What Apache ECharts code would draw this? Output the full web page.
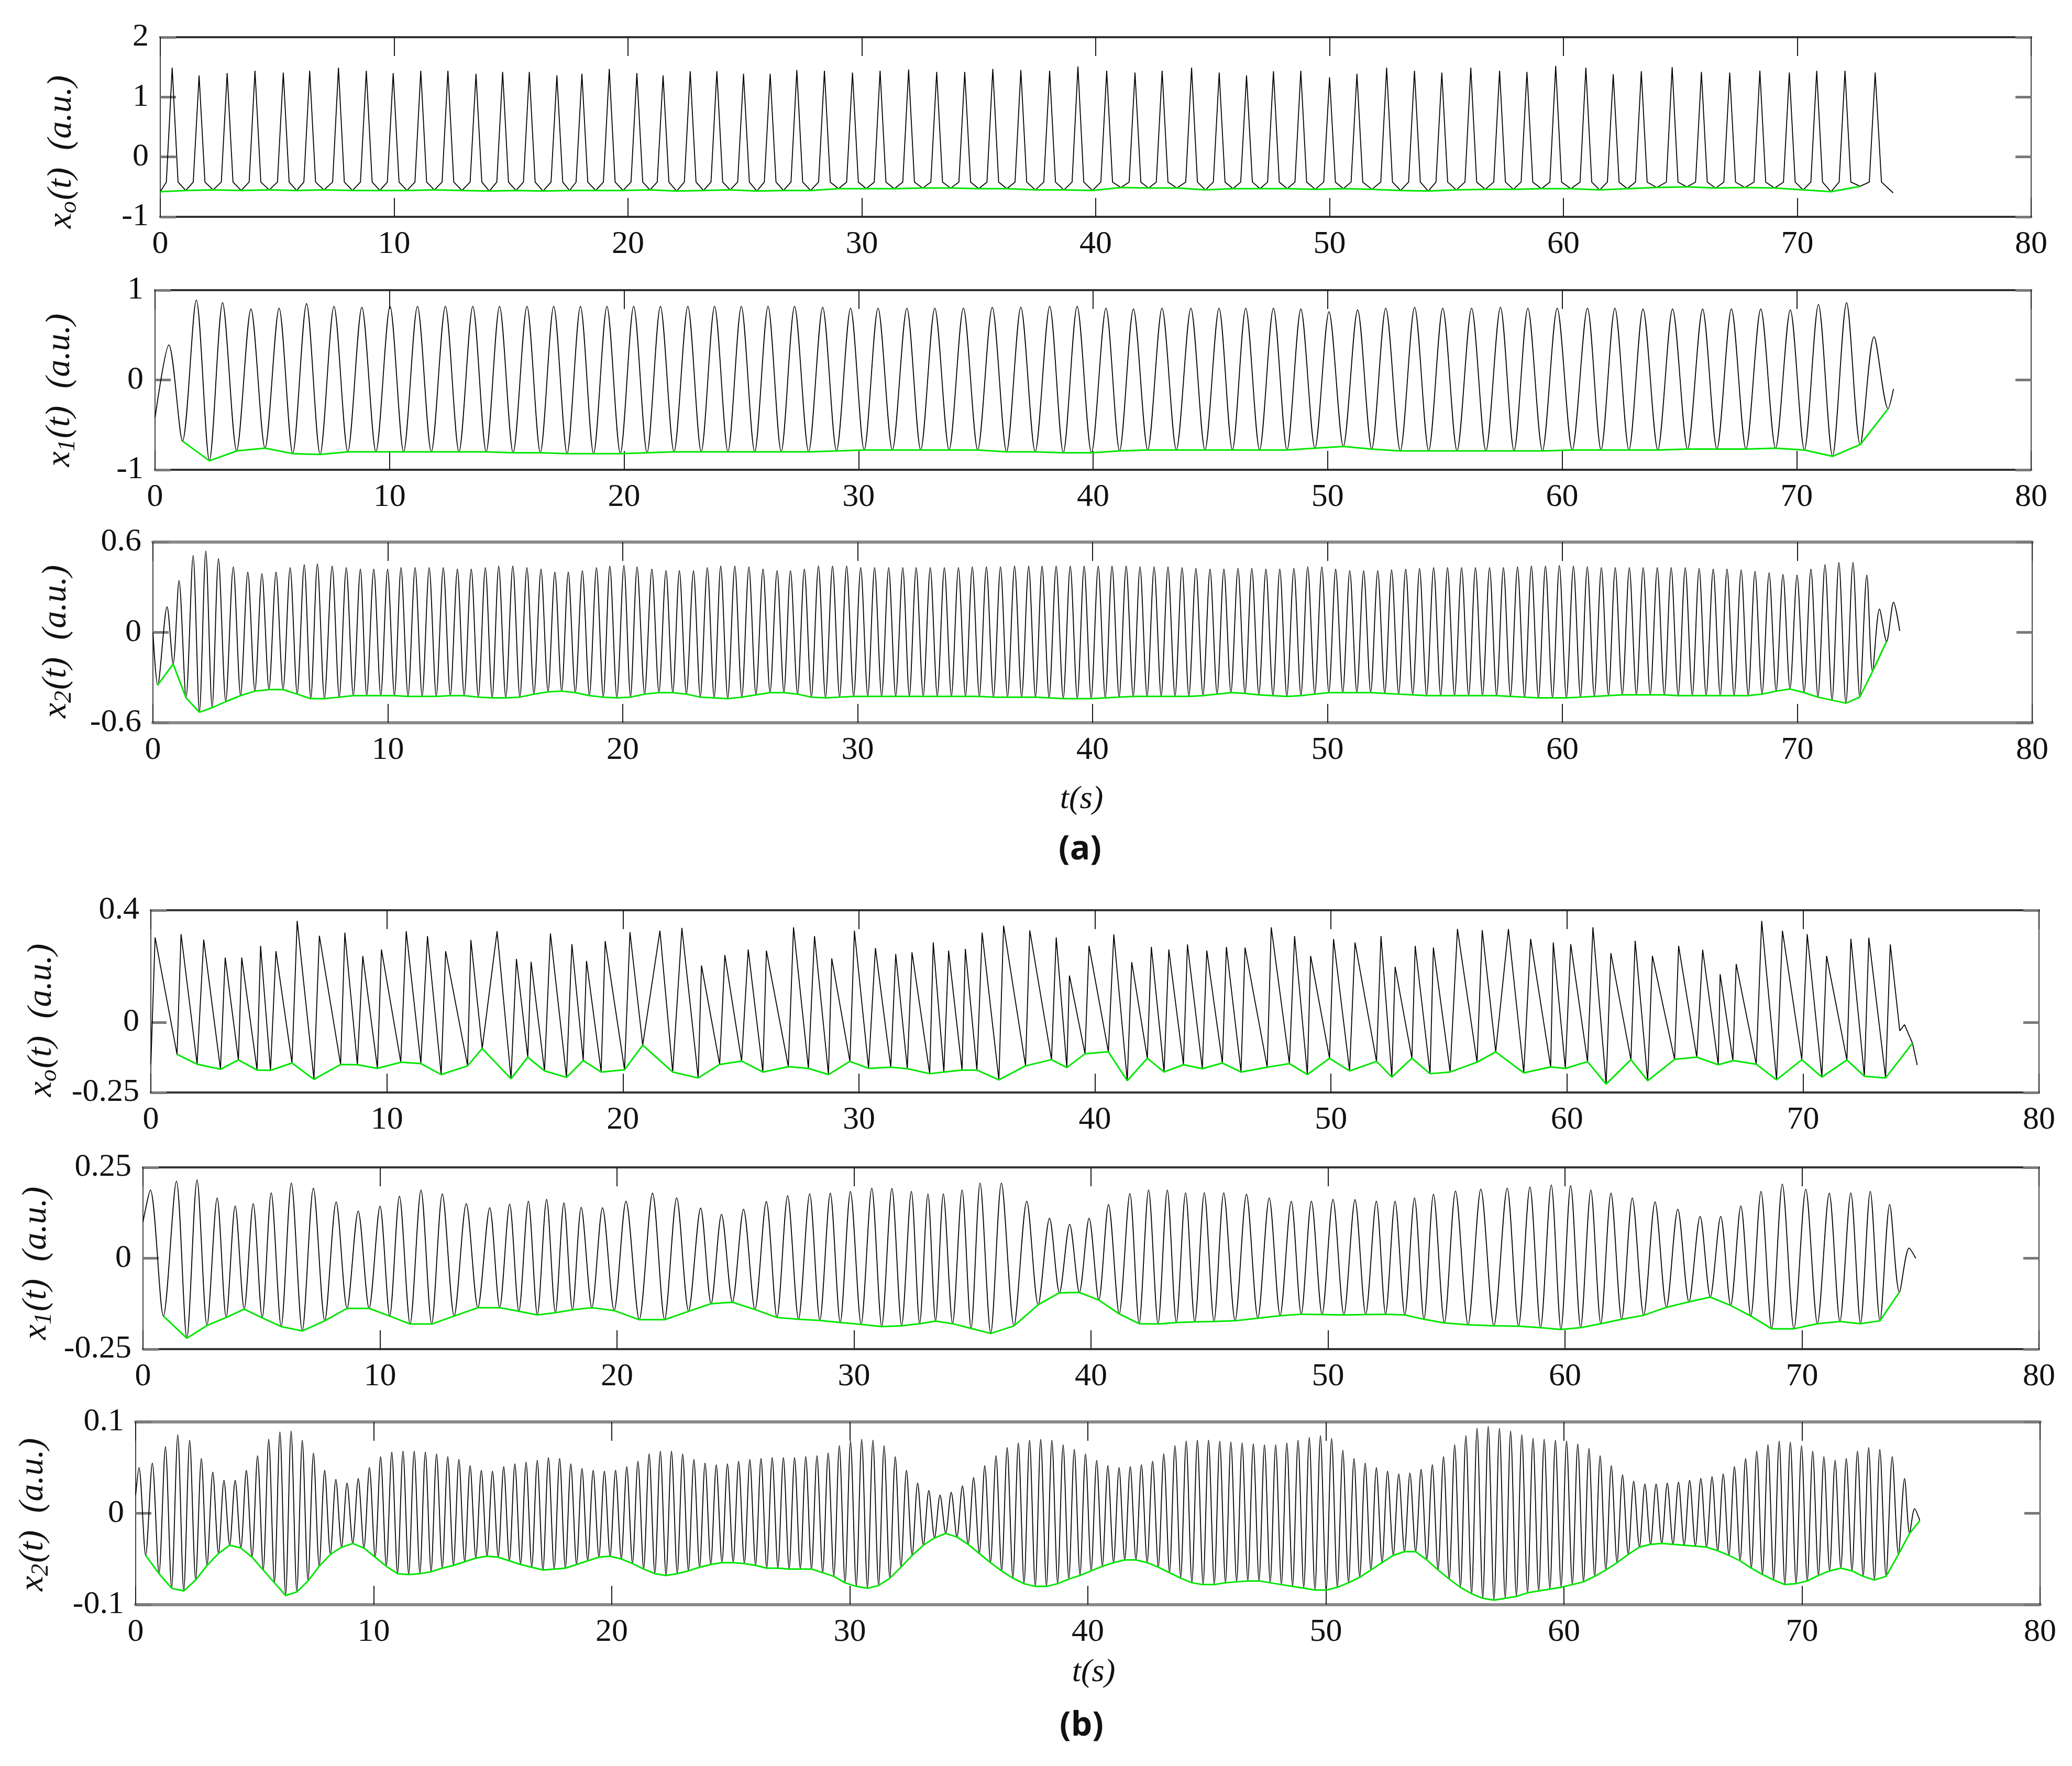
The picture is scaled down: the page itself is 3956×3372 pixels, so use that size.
<!DOCTYPE html>
<html>
<head>
<meta charset="utf-8">
<title>Time series x(t)</title>
<script src="https://cdn.jsdelivr.net/npm/echarts@6/dist/echarts.min.js"></script>
<style>
  html, body { margin: 0; padding: 0; background: #fff; }
  #chart { width: 3956px; height: 3372px; }
</style>
</head>
<body>
<div id="chart"></div>
<script>
// ---- values (t in s, x in a.u.) ----
const xTicks = [0, 10, 20, 30, 40, 50, 60, 70, 80];

// (a) x_o(t)
const a0YTicks = [-1, 0, 1, 2];
const a0PeakT = [0.51,1.66,2.86,4.05,5.26,6.39,7.62,8.81,9.96,11.14,12.3,13.5,14.64,15.78,16.96,18.03,19.2,20.38,21.5,22.66,23.8,24.94,26.08,27.22,28.4,29.6,30.78,32.0,33.2,34.4,35.6,36.8,38.03,39.24,40.47,41.68,42.84,44.1,45.28,46.45,47.6,48.77,50.0,51.17,52.44,53.63,54.8,56.04,57.27,58.44,59.67,60.96,62.13,63.33,64.65,65.9,67.11,68.4,69.66,70.83,72.04,73.33];
const a0PeakV = [1.49,1.36,1.40,1.44,1.41,1.44,1.49,1.44,1.40,1.44,1.44,1.39,1.42,1.42,1.36,1.39,1.47,1.40,1.36,1.43,1.43,1.39,1.39,1.45,1.44,1.41,1.44,1.46,1.42,1.42,1.47,1.45,1.44,1.51,1.44,1.41,1.44,1.49,1.41,1.36,1.43,1.44,1.33,1.39,1.49,1.44,1.41,1.49,1.44,1.42,1.52,1.49,1.38,1.43,1.50,1.42,1.41,1.44,1.41,1.44,1.44,1.41];
// where each spike widens into the flat floor
const a0FootT = [0.26,0.76,1.41,1.91,2.61,3.11,3.8,4.3,5.01,5.51,6.14,6.64,7.37,7.87,8.56,9.06,9.71,10.21,10.89,11.39,12.05,12.55,13.25,13.75,14.39,14.89,15.53,16.03,16.71,17.21,17.78,18.28,18.95,19.45,20.13,20.63,21.25,21.75,22.41,22.91,23.55,24.05,24.69,25.19,25.83,26.33,26.97,27.47,28.15,28.65,29.35,29.85,30.53,31.03,31.75,32.25,32.95,33.45,34.15,34.65,35.35,35.85,36.55,37.05,37.78,38.28,38.99,39.49,40.22,40.72,41.43,41.93,42.59,43.09,43.85,44.35,45.03,45.53,46.2,46.7,47.35,47.85,48.52,49.02,49.75,50.25,50.92,51.42,52.19,52.69,53.38,53.88,54.55,55.05,55.79,56.29,57.02,57.52,58.19,58.69,59.42,59.92,60.71,61.21,61.88,62.38,63.08,63.58,64.4,64.9,65.65,66.15,66.86,67.36,68.15,68.65,69.41,69.91,70.58,71.08,71.79,72.29,73.08,73.6];
const a0FootLevel = -0.42;
const a0LowT = [0,1.09,2.26,3.46,4.66,5.83,7.0,8.22,9.39,10.55,11.72,12.9,14.07,15.21,16.37,17.5,18.62,19.79,20.94,22.08,23.23,24.37,25.51,26.65,27.81,29.0,30.19,31.39,32.6,33.8,35.0,36.2,37.42,38.64,39.86,41.08,42.26,43.47,44.69,45.87,47.03,48.19,49.39,50.59,51.81,53.04,54.22,55.42,56.66,57.86,59.06,60.32,61.55,62.73,63.99,65.28,66.51,67.76,69.03,70.25,71.44,72.69];
const a0LowV = [-0.58,-0.56,-0.55,-0.56,-0.55,-0.56,-0.55,-0.56,-0.56,-0.56,-0.55,-0.56,-0.57,-0.56,-0.57,-0.56,-0.56,-0.56,-0.55,-0.57,-0.56,-0.55,-0.57,-0.56,-0.56,-0.53,-0.53,-0.53,-0.52,-0.52,-0.53,-0.53,-0.55,-0.55,-0.56,-0.51,-0.52,-0.52,-0.55,-0.53,-0.53,-0.53,-0.54,-0.53,-0.54,-0.56,-0.57,-0.55,-0.54,-0.54,-0.53,-0.53,-0.55,-0.53,-0.51,-0.50,-0.52,-0.51,-0.52,-0.55,-0.58,-0.49];
const a0EdgeT = [74.1];
const a0EdgeV = [-0.6];

// (a) x_1(t)
const a1YTicks = [-1, 0, 1];
const a1PeakT = [0.59,1.76,2.88,4.09,5.29,6.46,7.63,8.82,10.02,11.19,12.38,13.55,14.69,15.86,17.0,18.14,19.27,20.41,21.55,22.72,23.86,25.0,26.14,27.27,28.47,29.66,30.83,32.06,33.25,34.47,35.7,36.92,38.15,39.32,40.55,41.72,42.94,44.17,45.37,46.51,47.69,48.86,50.06,51.28,52.48,53.71,54.91,56.14,57.37,58.54,59.79,61.08,62.25,63.45,64.71,65.99,67.22,68.47,69.73,70.93,72.13,73.3];
const a1PeakV = [0.39,0.89,0.86,0.79,0.80,0.85,0.82,0.81,0.82,0.82,0.82,0.82,0.82,0.82,0.82,0.82,0.82,0.82,0.82,0.82,0.82,0.82,0.82,0.82,0.81,0.80,0.80,0.80,0.80,0.80,0.81,0.81,0.82,0.82,0.80,0.79,0.80,0.80,0.80,0.80,0.80,0.79,0.76,0.78,0.80,0.81,0.80,0.80,0.81,0.80,0.80,0.80,0.80,0.79,0.79,0.79,0.79,0.79,0.78,0.84,0.86,0.48];
const a1LowT = [1.17,2.32,3.48,4.69,5.87,7.04,8.22,9.42,10.6,11.78,12.96,14.12,15.27,16.43,17.57,18.7,19.84,20.98,22.13,23.29,24.43,25.57,26.7,27.87,29.06,30.24,31.44,32.65,33.86,35.08,36.31,37.53,38.73,39.93,41.13,42.33,43.55,44.77,45.94,47.1,48.27,49.46,50.67,51.88,53.1,54.31,55.52,56.75,57.95,59.16,60.43,61.66,62.85,64.08,65.35,66.6,67.84,69.1,70.33,71.53,72.71,73.9];
const a1LowV = [-0.68,-0.90,-0.79,-0.76,-0.82,-0.83,-0.80,-0.80,-0.80,-0.80,-0.80,-0.80,-0.81,-0.81,-0.82,-0.82,-0.82,-0.81,-0.80,-0.80,-0.80,-0.80,-0.80,-0.80,-0.79,-0.78,-0.78,-0.78,-0.78,-0.78,-0.80,-0.80,-0.81,-0.81,-0.79,-0.78,-0.78,-0.78,-0.78,-0.78,-0.78,-0.76,-0.74,-0.77,-0.79,-0.79,-0.79,-0.79,-0.79,-0.79,-0.78,-0.78,-0.78,-0.78,-0.77,-0.77,-0.77,-0.76,-0.78,-0.85,-0.72,-0.32];
const a1EdgeT = [0, 74.13];
const a1EdgeV = [-0.42, -0.1];

// (a) x_2(t)
const a2YTicks = [-0.6, 0, 0.6];
const a2PeakT = [0.6,1.11,1.71,2.25,2.79,3.42,4.04,4.64,5.24,5.84,6.44,7.0,7.63,8.23,8.83,9.4,9.99,10.56,11.16,11.76,12.36,12.96,13.55,14.15,14.72,15.32,15.92,16.52,17.11,17.68,18.28,18.88,19.45,20.05,20.61,21.24,21.84,22.41,23.01,23.6,24.17,24.77,25.37,25.97,26.57,27.14,27.73,28.33,28.93,29.53,30.13,30.72,31.32,31.92,32.49,33.09,33.69,34.29,34.88,35.48,36.08,36.68,37.28,37.85,38.45,39.05,39.64,40.24,40.83,41.43,42.02,42.62,43.21,43.81,44.4,45.0,45.59,46.19,46.78,47.38,47.97,48.57,49.16,49.76,50.35,50.95,51.54,52.14,52.73,53.33,53.92,54.52,55.11,55.71,56.3,56.9,57.49,58.09,58.68,59.28,59.87,60.47,61.06,61.66,62.25,62.85,63.44,64.04,64.63,65.23,65.82,66.42,67.01,67.61,68.2,68.8,69.39,69.99,70.58,71.18,71.77,72.37,72.96,73.5,74.1];
const a2PeakV = [0.17,0.344,0.51,0.54,0.49,0.435,0.40,0.39,0.40,0.43,0.45,0.455,0.44,0.43,0.42,0.42,0.42,0.43,0.43,0.43,0.43,0.42,0.42,0.43,0.44,0.44,0.43,0.42,0.40,0.40,0.41,0.43,0.44,0.445,0.435,0.42,0.41,0.41,0.41,0.43,0.44,0.44,0.435,0.42,0.41,0.41,0.42,0.44,0.44,0.44,0.43,0.43,0.43,0.43,0.43,0.43,0.43,0.43,0.435,0.435,0.435,0.44,0.44,0.44,0.44,0.44,0.44,0.44,0.44,0.44,0.435,0.435,0.435,0.43,0.425,0.42,0.42,0.425,0.425,0.42,0.42,0.425,0.435,0.435,0.42,0.41,0.41,0.41,0.415,0.42,0.425,0.43,0.43,0.43,0.43,0.43,0.43,0.435,0.44,0.44,0.445,0.44,0.435,0.43,0.43,0.43,0.43,0.43,0.43,0.43,0.425,0.42,0.42,0.415,0.405,0.395,0.385,0.38,0.42,0.45,0.465,0.465,0.38,0.155,0.20];
const a2LowT = [0.2,0.86,1.41,1.98,2.52,3.1,3.73,4.34,4.94,5.54,6.14,6.72,7.3,7.93,8.53,9.1,9.7,10.28,10.86,11.46,12.06,12.66,13.25,13.85,14.44,15.02,15.62,16.22,16.82,17.4,17.98,18.58,19.17,19.75,20.33,20.93,21.54,22.13,22.71,23.3,23.89,24.47,25.07,25.67,26.27,26.86,27.44,28.03,28.63,29.23,29.83,30.43,31.02,31.62,32.2,32.79,33.39,33.99,34.59,35.18,35.78,36.38,36.98,37.57,38.15,38.75,39.35,39.94,40.54,41.13,41.73,42.32,42.92,43.51,44.1,44.7,45.3,45.89,46.49,47.08,47.68,48.27,48.87,49.46,50.06,50.65,51.25,51.84,52.44,53.03,53.63,54.22,54.82,55.41,56.01,56.6,57.2,57.79,58.39,58.98,59.58,60.17,60.77,61.36,61.96,62.55,63.15,63.74,64.34,64.93,65.53,66.12,66.72,67.31,67.91,68.5,69.1,69.69,70.29,70.88,71.48,72.07,72.66,73.2,73.8];
const a2LowV = [-0.35,-0.21,-0.435,-0.53,-0.50,-0.46,-0.42,-0.39,-0.38,-0.38,-0.41,-0.44,-0.44,-0.43,-0.42,-0.42,-0.42,-0.42,-0.425,-0.425,-0.425,-0.42,-0.42,-0.43,-0.435,-0.435,-0.43,-0.41,-0.395,-0.39,-0.40,-0.42,-0.43,-0.435,-0.43,-0.41,-0.40,-0.40,-0.41,-0.43,-0.435,-0.44,-0.43,-0.415,-0.40,-0.40,-0.41,-0.43,-0.435,-0.43,-0.425,-0.425,-0.425,-0.425,-0.425,-0.425,-0.425,-0.425,-0.425,-0.425,-0.43,-0.43,-0.43,-0.43,-0.435,-0.44,-0.44,-0.44,-0.435,-0.43,-0.425,-0.425,-0.425,-0.425,-0.425,-0.42,-0.41,-0.40,-0.405,-0.415,-0.42,-0.425,-0.42,-0.41,-0.40,-0.40,-0.40,-0.40,-0.405,-0.41,-0.415,-0.42,-0.42,-0.42,-0.42,-0.42,-0.42,-0.425,-0.43,-0.435,-0.435,-0.435,-0.43,-0.425,-0.42,-0.415,-0.415,-0.415,-0.415,-0.42,-0.42,-0.42,-0.42,-0.42,-0.42,-0.41,-0.39,-0.376,-0.40,-0.43,-0.45,-0.47,-0.43,-0.26,-0.06];
const a2EdgeT = [0, 74.36];
const a2EdgeV = [0.0, 0.01];

// (b) x_o(t)
const b0YTicks = [-0.25, 0, 0.4];
const b0PeakT = [0.18,1.28,2.24,3.15,3.85,4.65,5.3,6.2,7.14,8.22,8.98,9.77,10.82,11.72,12.49,13.56,14.67,15.49,16.11,16.93,17.84,18.46,19.25,20.3,21.57,22.5,23.33,24.32,25.31,26.08,27.23,28.12,28.85,29.81,30.7,31.56,32.25,33.15,33.8,34.51,35.22,36.13,37.24,38.36,38.92,39.75,40.8,41.56,42.39,43.13,43.92,44.74,45.57,46.36,47.47,48.46,49.14,50.11,51.02,52.12,52.72,53.57,54.34,55.36,56.41,57.52,58.46,59.42,60.16,61.1,61.86,62.89,63.62,64.73,65.75,66.49,67.17,68.25,69.13,70.18,71.0,72.03,72.79,73.7];
const b0PeakV = [0.303,0.315,0.295,0.231,0.231,0.273,0.254,0.362,0.309,0.32,0.237,0.26,0.325,0.308,0.254,0.294,0.325,0.226,0.216,0.317,0.279,0.219,0.29,0.322,0.327,0.337,0.203,0.24,0.26,0.256,0.339,0.308,0.228,0.327,0.265,0.244,0.25,0.285,0.256,0.262,0.32,0.345,0.328,0.303,0.167,0.273,0.314,0.215,0.269,0.26,0.278,0.256,0.269,0.267,0.339,0.308,0.237,0.297,0.285,0.308,0.198,0.273,0.267,0.333,0.329,0.333,0.298,0.285,0.279,0.339,0.247,0.291,0.237,0.273,0.259,0.172,0.208,0.362,0.327,0.315,0.237,0.298,0.302,0.278];
const b0LowT = [1.11,1.96,2.95,3.71,4.5,5.07,5.98,6.91,8.04,8.75,9.6,10.59,11.44,12.3,13.42,14.04,15.26,15.97,16.68,17.61,18.32,19.08,20.07,20.84,22.11,23.19,24.1,25.03,25.93,27.01,27.86,28.71,29.62,30.41,31.35,32.05,33.0,33.6,34.37,35.0,35.93,37.06,38.16,38.81,39.58,40.57,41.37,42.22,42.93,43.75,44.55,45.4,46.19,47.3,48.24,49.0,49.94,50.79,51.93,52.58,53.43,54.2,55.05,56.19,56.98,58.17,59.31,59.93,60.87,61.66,62.71,63.42,64.56,65.5,66.41,67.03,68.02,68.88,69.95,70.8,71.86,72.6,73.5,74.64];
const b0LowV = [-0.114,-0.149,-0.167,-0.134,-0.170,-0.171,-0.145,-0.203,-0.150,-0.151,-0.164,-0.142,-0.147,-0.186,-0.155,-0.093,-0.201,-0.124,-0.173,-0.196,-0.136,-0.177,-0.169,-0.081,-0.177,-0.198,-0.150,-0.138,-0.177,-0.158,-0.164,-0.186,-0.139,-0.164,-0.160,-0.165,-0.183,-0.177,-0.170,-0.170,-0.205,-0.155,-0.133,-0.161,-0.112,-0.105,-0.208,-0.128,-0.177,-0.151,-0.165,-0.145,-0.177,-0.160,-0.147,-0.186,-0.128,-0.173,-0.139,-0.195,-0.128,-0.183,-0.177,-0.142,-0.105,-0.180,-0.159,-0.164,-0.140,-0.220,-0.133,-0.208,-0.132,-0.124,-0.151,-0.136,-0.149,-0.205,-0.133,-0.195,-0.134,-0.192,-0.198,-0.074];
const b0EdgeT = [0, 74.1, 74.3, 74.84];
const b0EdgeV = [-0.15, -0.03, -0.008, -0.152];

// (b) x_1(t)
const b1YTicks = [-0.25, 0, 0.25];
const b1PeakT = [0.31,1.41,2.28,3.13,3.89,4.65,5.41,6.26,7.19,8.15,9.08,10.0,10.82,11.73,12.63,13.64,14.63,15.47,16.26,17.03,17.76,18.49,19.39,20.38,21.5,22.52,23.53,24.41,25.34,26.3,27.2,28.13,29.0,29.85,30.75,31.6,32.42,33.12,33.77,34.56,35.32,36.22,37.29,38.25,39.1,39.92,40.74,41.64,42.43,43.22,43.99,44.78,45.6,46.56,47.52,48.45,49.3,50.21,51.14,52.04,52.83,53.65,54.45,55.38,56.45,57.56,58.52,59.42,60.24,61.09,61.94,62.84,63.8,64.76,65.7,66.57,67.42,68.27,69.17,70.16,71.15,72.06,72.88,73.7,74.52];
const b1PeakV = [0.188,0.212,0.216,0.166,0.144,0.15,0.18,0.207,0.193,0.155,0.13,0.143,0.171,0.188,0.177,0.15,0.139,0.149,0.157,0.162,0.152,0.14,0.139,0.157,0.179,0.166,0.138,0.121,0.135,0.156,0.172,0.177,0.179,0.184,0.193,0.192,0.184,0.177,0.177,0.188,0.207,0.207,0.157,0.11,0.093,0.11,0.148,0.178,0.188,0.188,0.18,0.18,0.18,0.176,0.166,0.157,0.157,0.162,0.161,0.157,0.157,0.166,0.176,0.185,0.19,0.193,0.196,0.202,0.2,0.188,0.179,0.166,0.155,0.135,0.115,0.115,0.144,0.184,0.204,0.19,0.179,0.18,0.184,0.148,0.028];
const b1LowT = [0.86,1.85,2.7,3.51,4.27,5.03,5.83,6.72,7.67,8.61,9.54,10.41,11.27,12.18,13.13,14.13,15.05,15.86,16.64,17.4,18.12,18.94,19.88,20.94,22.01,23.02,23.97,24.87,25.82,26.75,27.66,28.56,29.42,30.3,31.17,32.01,32.77,33.44,34.16,34.94,35.77,36.75,37.77,38.67,39.51,40.33,41.19,42.03,42.83,43.6,44.38,45.19,46.08,47.04,47.98,48.87,49.75,50.67,51.59,52.43,53.24,54.05,54.91,55.91,57.0,58.04,58.97,59.83,60.66,61.51,62.39,63.32,64.28,65.23,66.13,66.99,67.84,68.72,69.66,70.65,71.6,72.47,73.29,74.11];
const b1LowV = [-0.159,-0.22,-0.185,-0.163,-0.14,-0.164,-0.188,-0.2,-0.172,-0.138,-0.138,-0.159,-0.181,-0.181,-0.159,-0.136,-0.136,-0.146,-0.156,-0.15,-0.142,-0.136,-0.144,-0.169,-0.169,-0.146,-0.125,-0.121,-0.141,-0.163,-0.168,-0.171,-0.177,-0.182,-0.188,-0.186,-0.18,-0.173,-0.18,-0.193,-0.207,-0.186,-0.128,-0.095,-0.094,-0.115,-0.153,-0.18,-0.181,-0.177,-0.175,-0.174,-0.172,-0.165,-0.158,-0.154,-0.155,-0.156,-0.155,-0.154,-0.156,-0.168,-0.178,-0.183,-0.186,-0.187,-0.191,-0.196,-0.191,-0.18,-0.168,-0.157,-0.135,-0.12,-0.107,-0.13,-0.159,-0.194,-0.194,-0.18,-0.174,-0.18,-0.172,-0.093];
const b1EdgeT = [0, 74.8];
const b1EdgeV = [0.1, 0.0];

// (b) x_2(t)
const b2YTicks = [-0.1, 0, 0.1];
const b2PeakT = [0.14,0.7,1.25,1.77,2.27,2.76,3.24,3.71,4.18,4.65,5.12,5.59,6.06,6.53,7.0,7.47,7.94,8.41,8.88,9.35,9.82,10.29,10.76,11.23,11.7,12.17,12.64,13.11,13.58,14.05,14.52,14.99,15.46,15.93,16.4,16.87,17.34,17.81,18.28,18.75,19.22,19.69,20.16,20.63,21.1,21.57,22.04,22.51,22.98,23.45,23.92,24.39,24.86,25.33,25.8,26.27,26.74,27.21,27.68,28.15,28.62,29.09,29.56,30.03,30.5,30.97,31.44,31.91,32.38,32.85,33.32,33.79,34.26,34.73,35.2,35.67,36.14,36.61,37.08,37.55,38.02,38.49,38.96,39.43,39.9,40.37,40.84,41.31,41.78,42.25,42.72,43.19,43.66,44.13,44.6,45.07,45.54,46.01,46.48,46.95,47.42,47.89,48.36,48.83,49.3,49.77,50.24,50.71,51.18,51.65,52.12,52.59,53.06,53.53,54.0,54.47,54.94,55.41,55.88,56.35,56.82,57.29,57.76,58.23,58.7,59.17,59.64,60.11,60.58,61.05,61.52,61.99,62.46,62.93,63.4,63.87,64.34,64.81,65.28,65.75,66.22,66.69,67.16,67.63,68.1,68.57,69.04,69.51,69.98,70.45,70.92,71.39,71.86,72.33,72.8,73.27,73.79,74.31,74.73];
const b2PeakV = [0.05,0.055,0.073,0.086,0.08,0.06,0.045,0.036,0.036,0.047,0.063,0.081,0.089,0.09,0.08,0.066,0.047,0.037,0.033,0.038,0.05,0.062,0.067,0.068,0.068,0.067,0.065,0.062,0.059,0.052,0.047,0.046,0.051,0.054,0.056,0.058,0.061,0.06,0.054,0.049,0.047,0.046,0.047,0.051,0.057,0.065,0.068,0.068,0.065,0.059,0.055,0.053,0.054,0.057,0.059,0.06,0.061,0.061,0.061,0.062,0.063,0.066,0.074,0.079,0.081,0.08,0.074,0.062,0.047,0.033,0.025,0.02,0.023,0.03,0.039,0.052,0.063,0.072,0.077,0.08,0.081,0.08,0.075,0.07,0.065,0.058,0.052,0.05,0.051,0.053,0.057,0.065,0.074,0.079,0.08,0.08,0.079,0.078,0.077,0.076,0.075,0.075,0.077,0.08,0.083,0.085,0.082,0.069,0.06,0.055,0.05,0.046,0.043,0.044,0.048,0.053,0.062,0.075,0.085,0.093,0.095,0.093,0.09,0.086,0.082,0.081,0.08,0.079,0.076,0.071,0.063,0.052,0.042,0.035,0.032,0.032,0.033,0.034,0.036,0.038,0.04,0.043,0.051,0.06,0.068,0.075,0.079,0.078,0.074,0.068,0.062,0.058,0.06,0.068,0.072,0.07,0.062,0.038,0.005];
const b2LowT = [0.42,0.98,1.51,2.02,2.52,3.0,3.48,3.95,4.42,4.89,5.36,5.83,6.3,6.77,7.24,7.71,8.18,8.65,9.12,9.59,10.06,10.53,11.0,11.47,11.94,12.41,12.88,13.35,13.82,14.29,14.76,15.23,15.7,16.17,16.64,17.11,17.58,18.05,18.52,18.99,19.46,19.93,20.4,20.87,21.34,21.81,22.28,22.75,23.22,23.69,24.16,24.63,25.1,25.57,26.04,26.51,26.98,27.45,27.92,28.39,28.86,29.33,29.8,30.27,30.74,31.21,31.68,32.15,32.62,33.09,33.56,34.03,34.5,34.97,35.44,35.91,36.38,36.85,37.32,37.79,38.26,38.73,39.2,39.67,40.14,40.61,41.08,41.55,42.02,42.49,42.96,43.43,43.9,44.37,44.84,45.31,45.78,46.25,46.72,47.19,47.66,48.13,48.6,49.07,49.54,50.01,50.48,50.95,51.42,51.89,52.36,52.83,53.3,53.77,54.24,54.71,55.18,55.65,56.12,56.59,57.06,57.53,58.0,58.47,58.94,59.41,59.88,60.35,60.82,61.29,61.76,62.23,62.7,63.17,63.64,64.11,64.58,65.05,65.52,65.99,66.46,66.93,67.4,67.87,68.34,68.81,69.28,69.75,70.22,70.69,71.16,71.63,72.1,72.57,73.04,73.53,74.05,74.52,74.95];
const b2LowV = [-0.046,-0.066,-0.082,-0.085,-0.073,-0.057,-0.044,-0.035,-0.038,-0.048,-0.062,-0.076,-0.09,-0.086,-0.074,-0.058,-0.045,-0.037,-0.033,-0.038,-0.048,-0.058,-0.066,-0.067,-0.066,-0.064,-0.06,-0.057,-0.053,-0.049,-0.047,-0.048,-0.052,-0.056,-0.059,-0.062,-0.061,-0.06,-0.056,-0.052,-0.048,-0.047,-0.05,-0.055,-0.061,-0.066,-0.068,-0.066,-0.063,-0.059,-0.056,-0.054,-0.054,-0.055,-0.057,-0.06,-0.06,-0.061,-0.061,-0.061,-0.065,-0.069,-0.076,-0.08,-0.082,-0.079,-0.071,-0.059,-0.046,-0.035,-0.027,-0.022,-0.026,-0.034,-0.044,-0.054,-0.063,-0.071,-0.077,-0.08,-0.08,-0.077,-0.072,-0.068,-0.063,-0.058,-0.054,-0.051,-0.051,-0.054,-0.059,-0.065,-0.071,-0.076,-0.078,-0.078,-0.076,-0.075,-0.074,-0.074,-0.076,-0.078,-0.08,-0.082,-0.084,-0.084,-0.081,-0.076,-0.07,-0.062,-0.054,-0.046,-0.042,-0.042,-0.051,-0.062,-0.072,-0.081,-0.088,-0.093,-0.095,-0.093,-0.091,-0.087,-0.085,-0.083,-0.081,-0.078,-0.075,-0.069,-0.062,-0.054,-0.045,-0.037,-0.034,-0.033,-0.034,-0.035,-0.036,-0.037,-0.041,-0.046,-0.052,-0.06,-0.067,-0.073,-0.078,-0.077,-0.074,-0.068,-0.063,-0.06,-0.063,-0.069,-0.073,-0.069,-0.045,-0.022,-0.008];
const b2EdgeT = [0];
const b2EdgeV = [0.02];

// ---- helpers ----
function pairs(ts, vs) {
  return ts.map((t, i) => [t, Array.isArray(vs) ? vs[i] : vs]);
}
// black trace: peaks, lows and end points, in time order
function trace(groups) {
  let pts = [];
  groups.forEach(g => { pts = pts.concat(pairs(g[0], g[1])); });
  return pts.sort((p, q) => p[0] - q[0]);
}

const serif = 'Liberation Serif';

const panels = [
  { parts: [[a0PeakT, a0PeakV], [a0FootT, a0FootLevel], [a0EdgeT, a0EdgeV]], lows: [a0LowT, a0LowV], yTicks: a0YTicks, sub: 'o',
    rect: { left: 306, top: 71, width: 3572, height: 343 }, frame: '#333', frameW: 4, smooth: false, nameAt: [118, 290] },
  { parts: [[a1PeakT, a1PeakV], [a1EdgeT, a1EdgeV]], lows: [a1LowT, a1LowV], yTicks: a1YTicks, sub: '1',
    rect: { left: 296, top: 554, width: 3582, height: 343 }, frame: '#333', frameW: 4, smooth: 0.3, nameAt: [115, 745] },
  { parts: [[a2PeakT, a2PeakV], [a2EdgeT, a2EdgeV]], lows: [a2LowT, a2LowV], yTicks: a2YTicks, sub: '2',
    rect: { left: 292, top: 1035, width: 3588, height: 345 }, frame: '#8a8a8a', frameW: 6, smooth: 0.3, nameAt: [108, 1225] },
  { parts: [[b0PeakT, b0PeakV], [b0EdgeT, b0EdgeV]], lows: [b0LowT, b0LowV], yTicks: b0YTicks, sub: 'o',
    rect: { left: 288, top: 1738, width: 3605, height: 348 }, frame: '#333', frameW: 4, smooth: false, nameAt: [80, 1948] },
  { parts: [[b1PeakT, b1PeakV], [b1EdgeT, b1EdgeV]], lows: [b1LowT, b1LowV], yTicks: b1YTicks, sub: '1',
    rect: { left: 273, top: 2229, width: 3620, height: 347 }, frame: '#333', frameW: 4, smooth: 0.3, nameAt: [70, 2412] },
  { parts: [[b2PeakT, b2PeakV], [b2EdgeT, b2EdgeV]], lows: [b2LowT, b2LowV], yTicks: b2YTicks, sub: '2',
    rect: { left: 259, top: 2715, width: 3636, height: 349 }, frame: '#8a8a8a', frameW: 6, smooth: 0.3, nameAt: [64, 2892] }
];

const grids = [], xAxes = [], yAxes = [], series = [], texts = [];

panels.forEach((p, i) => {
  grids.push(Object.assign({ containLabel: false }, p.rect));
  const yMin = p.yTicks[0], yMax = p.yTicks[p.yTicks.length - 1];

  ['bottom', 'top'].forEach(pos => {
    xAxes.push({
      gridIndex: i, type: 'value', position: pos, min: 0, max: 80, interval: 10,
      axisLine: { show: true, onZero: false, lineStyle: { color: p.frame, width: p.frameW } },
      axisTick: { show: true, inside: true, length: 36, customValues: xTicks, lineStyle: { color: '#1a1a1a', width: 2 } },
      axisLabel: { show: pos === 'bottom', customValues: xTicks, margin: 22, fontFamily: serif, fontSize: 62, color: '#111',
        showMinLabel: true, showMaxLabel: true },
      splitLine: { show: false }
    });
  });
  ['left', 'right'].forEach(pos => {
    yAxes.push({
      gridIndex: i, type: 'value', position: pos, min: yMin, max: yMax,
      axisLine: { show: true, onZero: false, lineStyle: { color: '#444', width: 2 } },
      axisTick: { show: true, inside: true, length: 30, customValues: p.yTicks, lineStyle: { color: '#7a7a7a', width: 5 } },
      axisLabel: { show: pos === 'left', customValues: p.yTicks, margin: 22, fontFamily: serif, fontSize: 62, color: '#111',
        showMinLabel: true, showMaxLabel: true },
      splitLine: { show: false }
    });
  });

  series.push({
    type: 'line', xAxisIndex: 2 * i, yAxisIndex: 2 * i,
    data: trace(p.parts.concat([p.lows])),
    symbol: 'none', smooth: p.smooth, silent: true, z: 2,
    lineStyle: { color: '#000', width: 1.8 }
  });
  series.push({
    type: 'line', xAxisIndex: 2 * i, yAxisIndex: 2 * i,
    data: pairs(p.lows[0], p.lows[1]),
    symbol: 'none', silent: true, z: 3,
    lineStyle: { color: '#00e600', width: 3 }
  });

  texts.push({
    type: 'text', x: p.nameAt[0], y: p.nameAt[1], rotation: Math.PI / 2, silent: true,
    style: {
      text: '{m|x}{s|' + p.sub + '}{m|(t)  (a.u.)}',
      align: 'center', verticalAlign: 'middle',
      rich: {
        m: { fontFamily: serif, fontStyle: 'italic', fontSize: 66, lineHeight: 80, fill: '#111', color: '#111' },
        s: { fontFamily: serif, fontStyle: 'italic', fontSize: 46, lineHeight: 80, padding: [30, 2, 0, 0], fill: '#111', color: '#111' }
      }
    }
  });
});

// axis titles and panel captions
[[2065, 1527], [2088, 3194]].forEach(c => {
  texts.push({ type: 'text', x: c[0], y: c[1], silent: true,
    style: { text: 't(s)', font: 'italic 62px "Liberation Serif"', fill: '#111', align: 'center', verticalAlign: 'middle' } });
});
[['(a)', 2062, 1623], ['(b)', 2065, 3296]].forEach(c => {
  texts.push({ type: 'text', x: c[1], y: c[2], silent: true,
    style: { text: c[0], font: 'bold 64px "Open Sans"', fill: '#111', align: 'center', verticalAlign: 'middle' } });
});

const chart = echarts.init(document.getElementById('chart'), null, { renderer: 'canvas' });
chart.setOption({
  backgroundColor: '#fff',
  animation: false,
  grid: grids,
  xAxis: xAxes,
  yAxis: yAxes,
  series: series,
  graphic: { elements: texts }
});
</script>
</body>
</html>
